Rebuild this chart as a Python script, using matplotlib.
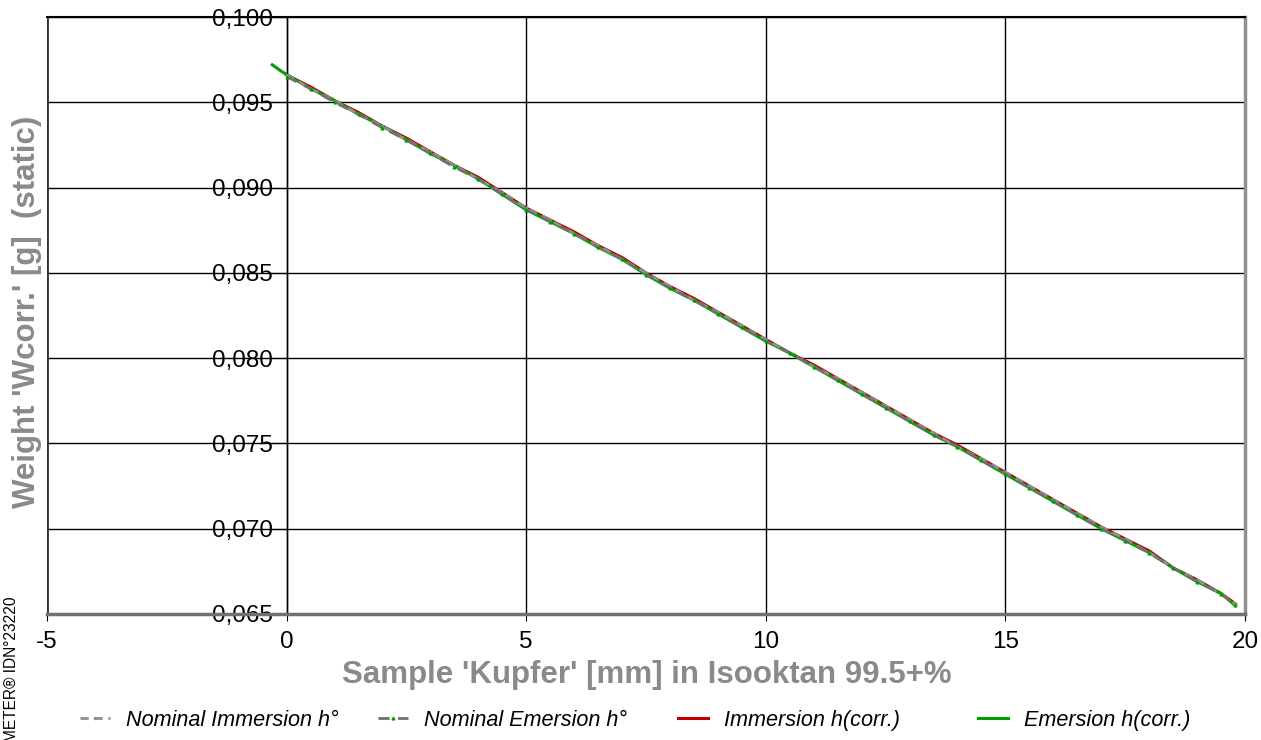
import numpy as np
import matplotlib.pyplot as plt
from matplotlib.ticker import FuncFormatter, MultipleLocator

plt.rcParams['font.family'] = ['Liberation Sans', 'DejaVu Sans']
plt.rcParams['axes.unicode_minus'] = False

# sample depth [mm] and weights [g]
depth = [0.0, 0.5, 1.0, 1.5, 2.0, 2.5, 3.0, 3.5, 4.0, 4.5, 5.0, 5.5, 6.0, 6.5,
         7.0, 7.5, 8.0, 8.5, 9.0, 9.5, 10.0, 10.5, 11.0, 11.5, 12.0, 12.5,
         13.0, 13.5, 14.0, 14.5, 15.0, 15.5, 16.0, 16.5, 17.0, 17.5, 18.0,
         18.5, 19.0, 19.5, 19.8]
immersion = [0.0966, 0.0959, 0.0951, 0.0944, 0.0936, 0.0929, 0.0921, 0.0913,
             0.0906, 0.0897, 0.0888, 0.0881, 0.0874, 0.0866, 0.0859, 0.0850,
             0.0842, 0.0835, 0.0827, 0.0819, 0.0811, 0.0803, 0.0796, 0.0788,
             0.0780, 0.0772, 0.0764, 0.0756, 0.0749, 0.0741, 0.0733, 0.0725,
             0.0717, 0.0709, 0.0701, 0.0694, 0.0687, 0.0677, 0.0670, 0.0662,
             0.0656]
depth_em = [-0.3, -0.1] + depth[1:]
emersion = [0.0972, 0.0968, 0.0958, 0.0951, 0.0943, 0.0936, 0.0928, 0.0920,
            0.0913, 0.0905, 0.0896, 0.0887, 0.0880, 0.0873, 0.0865, 0.0858,
            0.0849, 0.0841, 0.0834, 0.0826, 0.0818, 0.0810, 0.0803, 0.0795,
            0.0787, 0.0779, 0.0771, 0.0763, 0.0755, 0.0748, 0.0740, 0.0732,
            0.0724, 0.0716, 0.0708, 0.0700, 0.0693, 0.0686, 0.0677, 0.0669,
            0.0662, 0.0655]
nom_imm = [0.0966, 0.0958, 0.0951, 0.0943, 0.0936, 0.0928, 0.0921, 0.0913,
           0.0905, 0.0897, 0.0888, 0.0881, 0.0873, 0.0866, 0.0858, 0.0850,
           0.0842, 0.0834, 0.0827, 0.0819, 0.0811, 0.0803, 0.0795, 0.0788,
           0.0780, 0.0772, 0.0764, 0.0756, 0.0748, 0.0741, 0.0733, 0.0725,
           0.0717, 0.0709, 0.0701, 0.0694, 0.0686, 0.0677, 0.0670, 0.0662,
           0.0656]
nom_em = [0.0965, 0.0958, 0.0950, 0.0943, 0.0935, 0.0928, 0.0920, 0.0912,
          0.0905, 0.0896, 0.0887, 0.0880, 0.0873, 0.0865, 0.0858, 0.0849,
          0.0841, 0.0834, 0.0826, 0.0818, 0.0810, 0.0803, 0.0795, 0.0787,
          0.0779, 0.0771, 0.0763, 0.0755, 0.0748, 0.0740, 0.0732, 0.0724,
          0.0716, 0.0708, 0.0700, 0.0693, 0.0686, 0.0677, 0.0669, 0.0662,
          0.0655]

fig = plt.figure(figsize=(12.61, 7.40), dpi=100)
ax = fig.add_axes([0.0373, 0.1703, 0.95, 0.8067])

l1, = ax.plot(depth, nom_imm, color='#909090', ls=(0, (3, 2)), lw=2, marker='.', ms=3,
              label='Nominal Immersion h°', zorder=3)
l3, = ax.plot(depth, immersion, color='#c00000', lw=2.2, label='Immersion h(corr.)', zorder=2)
l4, = ax.plot(depth_em, emersion, color='#00a000', lw=2.2, label='Emersion h(corr.)', zorder=2)
l2, = ax.plot(depth, nom_em, color='#707070', ls=(0, (4, 3)), lw=2, marker='^', ms=2,
              mfc='#00a000', mec='#00a000', label='Nominal Emersion h°', zorder=4)

ax.set_xlim(-5, 20)
ax.set_ylim(0.065, 0.100)
ax.xaxis.set_major_locator(MultipleLocator(5))
ax.yaxis.set_major_locator(MultipleLocator(0.005))
ax.yaxis.set_major_formatter(FuncFormatter(lambda v, p: f"{v:.3f}".replace('.', ',')))
ax.grid(True, color='black', lw=1)
ax.set_axisbelow(True)

ax.spines['left'].set_position(('data', 0))
ax.spines['left'].set_linewidth(1)
ax.axvline(-5, color='#333333', lw=2, zorder=1)
ax.spines['top'].set_linewidth(1.5)
ax.spines['bottom'].set_color('#707070')
ax.spines['bottom'].set_linewidth(2.5)
ax.spines['right'].set_color('#909090')
ax.spines['right'].set_linewidth(2.5)

ax.tick_params(axis='y', direction='out', length=12, pad=-2, labelsize=17.5)
ax.tick_params(axis='x', direction='out', length=5, pad=7, labelsize=17.5)

fig.text(0.0214, 0.578, "Weight 'Wcorr.' [g]  (static)", rotation=90, ha='center',
         va='center', fontsize=22.5, fontweight='bold', color='#8a8a8a')
fig.text(0.513, 0.088, "Sample 'Kupfer' [mm] in Isooktan 99.5+%", ha='center',
         va='center', fontsize=22.5, fontweight='bold', color='#8a8a8a')
fig.text(0.009, 1 - 597 / 740, "METER® IDN°23220", rotation=90, ha='center', va='top',
         fontsize=11.2, color='black')

# one legend entry per slot, evenly spaced like the original
for line, x0 in zip([l1, l2, l3, l4], [80, 378, 678, 978]):
    fig.legend([line], [line.get_label()], loc='center left',
               bbox_to_anchor=(x0 / 1261, 0.027), frameon=False, borderpad=0,
               borderaxespad=0, handlelength=1.4, handletextpad=0.7,
               prop={'style': 'italic', 'size': 15.6})

fig.savefig('out.png', dpi=100)
